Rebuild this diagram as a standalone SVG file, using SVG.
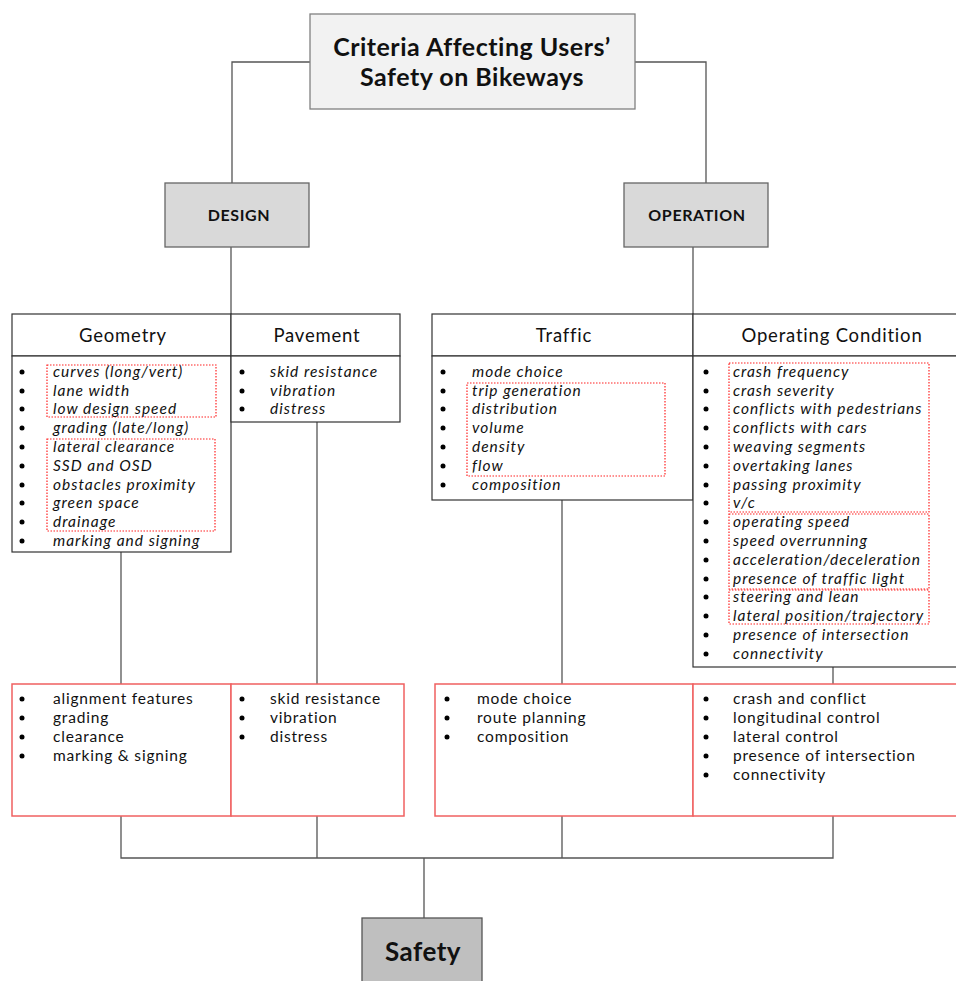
<svg xmlns="http://www.w3.org/2000/svg" width="956" height="981" viewBox="0 0 956 981">
<style>
.conn{fill:none;stroke:#555;stroke-width:1.3}
.hdr{fill:#fff;stroke:#333;stroke-width:1.2}
.red{fill:#fff;stroke:#f06060;stroke-width:1.5}
.dot{fill:none;stroke:#f22;stroke-width:1.2;stroke-dasharray:1.5 1.5}
.ht{font-family:Lato,"Open Sans",sans-serif;font-size:18.5px;letter-spacing:0.8px;fill:#111;text-anchor:middle}
.it{font-family:Lato,"Open Sans",sans-serif;font-size:15.5px;letter-spacing:1px;font-style:italic;fill:#111}
.rt{font-family:Lato,"Open Sans",sans-serif;font-size:15.5px;letter-spacing:0.8px;fill:#111}
.bt{font-family:Lato,"Open Sans",sans-serif;font-weight:bold;fill:#111;text-anchor:middle}
.b{fill:#000}
</style>
<g id="connectors">
<path class="conn" d="M310 62H232V183"/>
<path class="conn" d="M635 62H706V183"/>
<path class="conn" d="M231 247V314"/>
<path class="conn" d="M693 247V314"/>
<path class="conn" d="M121 552V684"/>
<path class="conn" d="M317 422V684"/>
<path class="conn" d="M562 500V684"/>
<path class="conn" d="M833 667V684"/>
<path class="conn" d="M121 816V858H833V816M317 816V858M562 816V858M424 858V918"/>
</g>
<g id="title">
<rect x="310" y="14" width="325" height="95" fill="#f2f2f2" stroke="#808080" stroke-width="1.3"/>
<text class="bt" x="472" y="56" font-size="25" letter-spacing="0.5">Criteria Affecting Users’</text>
<text class="bt" x="472" y="86" font-size="25" letter-spacing="0.5">Safety on Bikeways</text>
</g>
<g id="design">
<rect x="165" y="183" width="144" height="64" fill="#d9d9d9" stroke="#666" stroke-width="1.3"/>
<text class="bt" x="239" y="221" font-size="16" letter-spacing="0.6">DESIGN</text>
</g>
<g id="operation">
<rect x="624" y="183" width="144" height="64" fill="#d9d9d9" stroke="#666" stroke-width="1.3"/>
<text class="bt" x="697" y="221" font-size="16" letter-spacing="0.6">OPERATION</text>
</g>
<g id="geometry">
<rect class="hdr" x="12" y="314" width="219" height="42"/>
<text class="ht" x="123" y="342">Geometry</text>
<rect class="hdr" x="12" y="356" width="219" height="196"/>
<rect class="dot" x="47" y="365" width="169" height="52"/>
<rect class="dot" x="47" y="439" width="168" height="92"/>
<g class="b"><circle cx="22" cy="372" r="2.5"/><circle cx="22" cy="391" r="2.5"/><circle cx="22" cy="409" r="2.5"/><circle cx="22" cy="428" r="2.5"/><circle cx="22" cy="447" r="2.5"/><circle cx="22" cy="466" r="2.5"/><circle cx="22" cy="485" r="2.5"/><circle cx="22" cy="503" r="2.5"/><circle cx="22" cy="522" r="2.5"/><circle cx="22" cy="541" r="2.5"/></g>
<text class="it" x="53" y="377">curves (long/vert)</text>
<text class="it" x="53" y="396">lane width</text>
<text class="it" x="53" y="414">low design speed</text>
<text class="it" x="53" y="433">grading (late/long)</text>
<text class="it" x="53" y="452">lateral clearance</text>
<text class="it" x="53" y="471">SSD and OSD</text>
<text class="it" x="53" y="490">obstacles proximity</text>
<text class="it" x="53" y="508">green space</text>
<text class="it" x="53" y="527">drainage</text>
<text class="it" x="53" y="546">marking and signing</text>
</g>
<g id="pavement">
<rect class="hdr" x="231" y="314" width="169" height="42"/>
<text class="ht" x="317" y="342">Pavement</text>
<rect class="hdr" x="231" y="356" width="169" height="66"/>
<g class="b"><circle cx="242" cy="372" r="2.5"/><circle cx="242" cy="391" r="2.5"/><circle cx="242" cy="409" r="2.5"/></g>
<text class="it" x="270" y="377">skid resistance</text>
<text class="it" x="270" y="396">vibration</text>
<text class="it" x="270" y="414">distress</text>
</g>
<g id="traffic">
<rect class="hdr" x="432" y="314" width="261" height="42"/>
<text class="ht" x="564" y="342">Traffic</text>
<rect class="hdr" x="432" y="356" width="261" height="144"/>
<rect class="dot" x="467" y="383" width="198" height="93"/>
<g class="b"><circle cx="443" cy="372" r="2.5"/><circle cx="443" cy="391" r="2.5"/><circle cx="443" cy="409" r="2.5"/><circle cx="443" cy="428" r="2.5"/><circle cx="443" cy="447" r="2.5"/><circle cx="443" cy="466" r="2.5"/><circle cx="443" cy="485" r="2.5"/></g>
<text class="it" x="472" y="377">mode choice</text>
<text class="it" x="472" y="396">trip generation</text>
<text class="it" x="472" y="414">distribution</text>
<text class="it" x="472" y="433">volume</text>
<text class="it" x="472" y="452">density</text>
<text class="it" x="472" y="471">flow</text>
<text class="it" x="472" y="490">composition</text>
</g>
<g id="operating-condition">
<rect class="hdr" x="693" y="314" width="265" height="42"/>
<text class="ht" x="832" y="342">Operating Condition</text>
<rect class="hdr" x="693" y="356" width="265" height="311"/>
<rect class="dot" x="729" y="363" width="200" height="149"/>
<rect class="dot" x="729" y="514" width="200" height="75"/>
<rect class="dot" x="729" y="590" width="200" height="34"/>
<g class="b"><circle cx="706" cy="372" r="2.5"/><circle cx="706" cy="391" r="2.5"/><circle cx="706" cy="409" r="2.5"/><circle cx="706" cy="428" r="2.5"/><circle cx="706" cy="447" r="2.5"/><circle cx="706" cy="466" r="2.5"/><circle cx="706" cy="485" r="2.5"/><circle cx="706" cy="503" r="2.5"/><circle cx="706" cy="522" r="2.5"/><circle cx="706" cy="541" r="2.5"/><circle cx="706" cy="560" r="2.5"/><circle cx="706" cy="579" r="2.5"/><circle cx="706" cy="597" r="2.5"/><circle cx="706" cy="616" r="2.5"/><circle cx="706" cy="635" r="2.5"/><circle cx="706" cy="654" r="2.5"/></g>
<text class="it" x="733" y="377">crash frequency</text>
<text class="it" x="733" y="396">crash severity</text>
<text class="it" x="733" y="414">conflicts with pedestrians</text>
<text class="it" x="733" y="433">conflicts with cars</text>
<text class="it" x="733" y="452">weaving segments</text>
<text class="it" x="733" y="471">overtaking lanes</text>
<text class="it" x="733" y="490">passing proximity</text>
<text class="it" x="733" y="508">v/c</text>
<text class="it" x="733" y="527">operating speed</text>
<text class="it" x="733" y="546">speed overrunning</text>
<text class="it" x="733" y="565">acceleration/deceleration</text>
<text class="it" x="733" y="584">presence of traffic light</text>
<text class="it" x="733" y="602">steering and lean</text>
<text class="it" x="733" y="621">lateral position/trajectory</text>
<text class="it" x="733" y="640">presence of intersection</text>
<text class="it" x="733" y="659">connectivity</text>
</g>
<g id="design-outcome">
<rect class="red" x="12" y="684" width="219" height="132"/>
<rect class="red" x="231" y="684" width="173" height="132"/>
<g class="b"><circle cx="22" cy="699" r="2.5"/><circle cx="22" cy="718" r="2.5"/><circle cx="22" cy="737" r="2.5"/><circle cx="22" cy="756" r="2.5"/><circle cx="242" cy="699" r="2.5"/><circle cx="242" cy="718" r="2.5"/><circle cx="242" cy="737" r="2.5"/></g>
<text class="rt" x="53" y="704">alignment features</text>
<text class="rt" x="53" y="723">grading</text>
<text class="rt" x="53" y="742">clearance</text>
<text class="rt" x="53" y="761">marking &amp; signing</text>
<text class="rt" x="270" y="704">skid resistance</text>
<text class="rt" x="270" y="723">vibration</text>
<text class="rt" x="270" y="742">distress</text>
</g>
<g id="operation-outcome">
<rect class="red" x="435" y="684" width="258" height="132"/>
<rect class="red" x="693" y="684" width="265" height="132"/>
<g class="b"><circle cx="447" cy="699" r="2.5"/><circle cx="447" cy="718" r="2.5"/><circle cx="447" cy="737" r="2.5"/><circle cx="706" cy="699" r="2.5"/><circle cx="706" cy="718" r="2.5"/><circle cx="706" cy="737" r="2.5"/><circle cx="706" cy="756" r="2.5"/><circle cx="706" cy="775" r="2.5"/></g>
<text class="rt" x="477" y="704">mode choice</text>
<text class="rt" x="477" y="723">route planning</text>
<text class="rt" x="477" y="742">composition</text>
<text class="rt" x="733" y="704">crash and conflict</text>
<text class="rt" x="733" y="723">longitudinal control</text>
<text class="rt" x="733" y="742">lateral control</text>
<text class="rt" x="733" y="761">presence of intersection</text>
<text class="rt" x="733" y="780">connectivity</text>
</g>
<g id="safety">
<rect x="362" y="918" width="120" height="70" fill="#bfbfbf" stroke="#555" stroke-width="1.3"/>
<text class="bt" x="423" y="961" font-size="26" letter-spacing="0.5">Safety</text>
</g>
</svg>
